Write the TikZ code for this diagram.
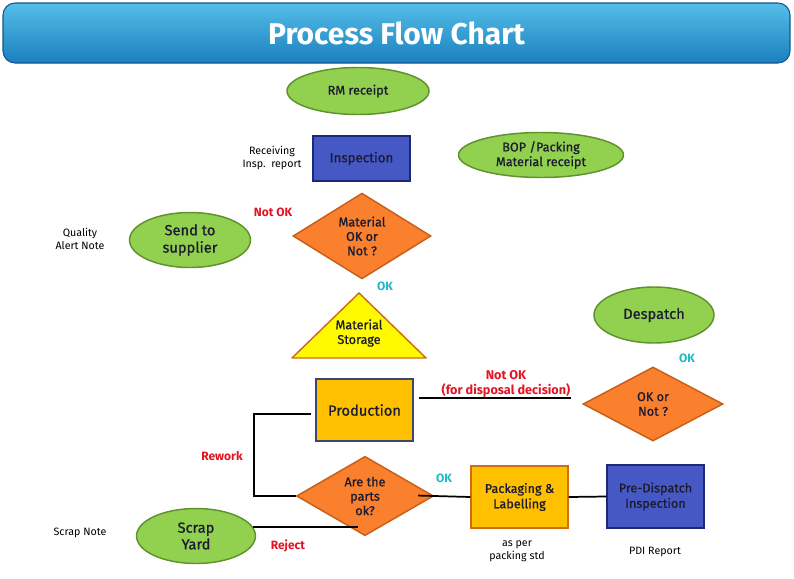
\documentclass[tikz,border=0pt]{standalone}
\usepackage{fontspec}
\setmainfont{Fira Sans}
\newfontfamily\medfont{Fira Sans}[RawFeature={embolden=0.9}]
\usetikzlibrary{shapes.geometric}
\definecolor{gfill}{RGB}{146,208,80}
\definecolor{gdraw}{RGB}{95,145,45}
\definecolor{bfill}{RGB}{70,88,196}
\definecolor{bdraw}{RGB}{30,40,120}
\definecolor{ofill}{RGB}{250,128,45}
\definecolor{odraw}{RGB}{200,95,25}
\definecolor{yfill}{RGB}{255,192,0}
\definecolor{ydraw}{RGB}{205,110,20}
\definecolor{tfill}{RGB}{255,250,0}
\definecolor{pdraw}{RGB}{60,70,110}
\definecolor{txt}{RGB}{28,28,48}
\definecolor{redl}{RGB}{225,20,35}
\definecolor{cyanl}{RGB}{30,185,200}
\definecolor{ttop}{RGB}{85,190,232}
\definecolor{tbot}{RGB}{25,128,190}
\definecolor{tdraw}{RGB}{20,85,140}
\tikzset{
  oval/.style={ellipse, draw=gdraw, fill=gfill, line width=1.1pt, inner sep=0pt, text=txt, align=center},
  bluebox/.style={rectangle, draw=bdraw, fill=bfill, line width=1.1pt, inner sep=0pt, text=txt, align=center},
  yelbox/.style={rectangle, draw=ydraw, fill=yfill, line width=1.1pt, inner sep=0pt, text=txt, align=center},
  dmd/.style={diamond, draw=odraw, fill=ofill, line width=1.1pt, inner sep=0pt, text=txt, align=center},
  note/.style={font=\fontsize{8}{9.5}\selectfont, align=center, text=black},
  redlab/.style={font=\fontsize{9}{11}\selectfont\bfseries, text=redl, align=center},
  cylab/.style={font=\fontsize{9}{11}\selectfont\bfseries, text=cyanl},
  conn/.style={line width=1.3pt, black}
}
\begin{document}
\begin{tikzpicture}[x=0.75pt,y=-0.75pt]
\useasboundingbox (0,0) rectangle (794,579);
% title
\node[rectangle, rounded corners=9pt, top color=ttop, bottom color=tbot, draw=tdraw, line width=0.8pt,
  minimum width=787*0.75pt, minimum height=60*0.75pt, text=white, font=\fontsize{22.5}{26}\selectfont\bfseries]
  (title) at (396.5,33) {Process Flow Chart};
% nodes
\node[oval, minimum width=142*0.75pt, minimum height=47*0.75pt, font=\medfont\fontsize{9.5}{11.5}\selectfont] (rm) at (358,91) {RM receipt};
\node[bluebox, minimum width=97*0.75pt, minimum height=45*0.75pt, font=\medfont\fontsize{10}{12}\selectfont] (insp) at (361.5,158.5) {Inspection};
\node[note] (rcv) at (272,158) {Receiving\\Insp.~~report};
\node[oval, minimum width=165*0.75pt, minimum height=45*0.75pt, font=\medfont\fontsize{9.5}{11}\selectfont] (bop) at (541,155) {BOP /Packing\\Material receipt};
\node[note] (qual) at (80,239) {Quality\\Alert Note};
\node[oval, minimum width=121*0.75pt, minimum height=55*0.75pt, font=\medfont\fontsize{11}{13}\selectfont] (send) at (190,240) {Send to\\supplier};
\node[redlab] (nok1) at (273,212) {Not OK};
\node[dmd, minimum width=138*0.75pt, minimum height=74*0.75pt, font=\medfont\fontsize{9.5}{10.8}\selectfont] (mat) at (362,236) {Material\\OK or\\Not ?};
\node[cylab] (ok1) at (385,286) {OK};
% triangle
\coordinate (tA) at (359,293);
\coordinate (tB) at (292,358);
\coordinate (tC) at (426,358);
\draw[draw=ydraw, fill=tfill, line width=1.1pt, line join=round] (tA) -- (tB) -- (tC) -- cycle;
\node[text=txt, align=center, font=\medfont\fontsize{9.5}{11}\selectfont] (stor) at (359,333) {Material\\Storage};
\node[oval, minimum width=120*0.75pt, minimum height=56*0.75pt, font=\medfont\fontsize{11}{13}\selectfont] (desp) at (654,315) {Despatch};
\node[cylab] (ok2) at (687,358) {OK};
\node[yelbox, draw=pdraw, minimum width=97*0.75pt, minimum height=62*0.75pt, font=\medfont\fontsize{11}{13}\selectfont] (prod) at (364.5,410) {Production};
\node[redlab, font=\fontsize{9.5}{11}\selectfont\bfseries] (nok2) at (506,384) {Not OK\\(for disposal decision)};
\node[dmd, minimum width=140*0.75pt, minimum height=74*0.75pt, font=\medfont\fontsize{9.5}{11}\selectfont] (okn) at (653,404) {OK or\\Not ?};
\node[redlab] (rwk) at (222,456) {Rework};
\node[dmd, minimum width=137*0.75pt, minimum height=74*0.75pt, font=\medfont\fontsize{9.5}{10.8}\selectfont] (parts) at (365,496) {Are the\\parts\\ok?};
\node[cylab] (ok3) at (444,478) {OK};
\node[yelbox, minimum width=97*0.75pt, minimum height=62*0.75pt, font=\medfont\fontsize{9.5}{11.5}\selectfont] (pack) at (519.5,497) {Packaging \&\\Labelling};
\node[bluebox, minimum width=97*0.75pt, minimum height=63*0.75pt, font=\medfont\fontsize{9.5}{11.5}\selectfont] (pdi) at (655.5,496.5) {Pre-Dispatch\\Inspection};
\node[note] (asper) at (517,551) {as per\\packing std};
\node[note] (pdir) at (655,552) {PDI Report};
\node[oval, minimum width=119*0.75pt, minimum height=55*0.75pt, font=\medfont\fontsize{11}{12.5}\selectfont] (scrap) at (196,536) {Scrap\\Yard};
\node[redlab] (rej) at (288,546) {Reject};
\node[note] (snote) at (80,533) {Scrap Note};
% connectors
\draw[conn] ([shift={(-4,4)}]prod.west) -- ++(-57,0) coordinate (rwk1) |- (parts.west);
\draw[conn] ([shift={(5,-12)}]prod.east) -- ([shift={(-11,-6)}]okn.west);
\draw[conn, shorten <=-12pt] (parts.east) -- (pack.west);
\draw[conn] (pack.east) -- (pdi.west);
\draw[conn] (scrap.9) -- ([xshift=-5]scrap.9 -| parts.south);
\end{tikzpicture}
\end{document}
